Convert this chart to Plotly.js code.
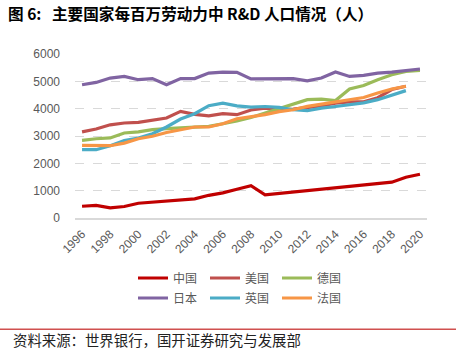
<!DOCTYPE html>
<html>
<head>
<meta charset="utf-8">
<script src="https://cdn.plot.ly/plotly-3.0.1.min.js"></script>
<style>html,body{margin:0;padding:0;background:#fff;}#chart{width:456px;height:353px;}</style>
</head>
<body>
<div id="chart"></div>
<script>
const years = [1996,1997,1998,1999,2000,2001,2002,2003,2004,2005,2006,2007,2008,2009,2010,2011,2012,2013,2014,2015,2016,2017,2018,2019,2020];
const tickYears = [1996,1998,2000,2002,2004,2006,2008,2010,2012,2014,2016,2018,2020];
const china   = [430,460,370,420,540,580,620,660,700,830,920,1050,1180,850,900,960,1020,1060,1100,1150,1200,1250,1310,1490,1600];
const usa     = [3150,3255,3410,3475,3500,3570,3660,3900,3790,3740,3815,3780,3950,4020,3950,3980,4030,4100,4200,4250,4250,4400,4700,4820,null];
const germany = [2840,2900,2930,3110,3150,3230,3270,3290,3330,3350,3450,3550,3680,3840,3990,4145,4330,4350,4300,4720,4850,5060,5240,5360,5400];
const japan   = [4875,4960,5120,5180,5060,5100,4875,5100,5100,5300,5340,5330,5090,5090,5090,5100,5020,5120,5340,5180,5220,5300,5340,5390,5450];
const uk      = [2500,2500,2645,2830,2925,3085,3330,3620,3815,4110,4200,4100,4060,4080,4050,3960,3925,4020,4080,4145,4210,4330,4490,4660,null];
const france  = [2660,2645,2645,2740,2900,2990,3130,3230,3330,3330,3450,3630,3695,3780,3890,3960,4085,4170,4240,4330,4410,4570,4720,4820,null];

const names = ['中国','美国','德国','日本','英国','法国'];
const colors = ['#C00000','#C0504D','#9BBB59','#8064A2','#4BACC6','#F79646'];
const series = [china, usa, germany, japan, uk, france];
const legends = ['legend','legend','legend','legend2','legend2','legend2'];

const traces = series.map((s,i)=>({
  x: years, y: s, type:'scatter', mode:'lines', name: names[i],
  line:{color:colors[i], width:3.2}, legend: legends[i]
}));

const fontCJK = '"Noto Sans CJK SC", "Noto Sans", sans-serif';
const legendCommon = {
  orientation:'h', xref:'container', yref:'container', xanchor:'left', yanchor:'middle',
  font:{family:fontCJK, size:12, color:'#595959'},
  entrywidth:27, entrywidthmode:'pixels', bgcolor:'rgba(0,0,0,0)', borderwidth:0,
  itemwidth:30, tracegroupgap:0
};

const layout = {
  width:456, height:353,
  margin:{l:75, r:29, t:54.3, b:134.7},
  paper_bgcolor:'#fff', plot_bgcolor:'#fff',
  showlegend:true,
  title:{text:'<b>图 6:&nbsp;&nbsp;&nbsp;主要国家每百万劳动力中 R&D 人口情况（人）</b>', xref:'container', yref:'container', x:8/456, xanchor:'left', y:1-15/353, yanchor:'middle',
    font:{family:fontCJK, size:15.6, color:'#000'}},
  xaxis:{range:[1995.5,2020.5], tickvals:tickYears, ticktext:tickYears.map(String), tickangle:-45,
    showgrid:false, zeroline:false, showline:true, linecolor:'#D9D9D9', linewidth:1.5,
    ticks:'', ticklabelstandoff:3, tickfont:{family:'"Liberation Sans", Arial, sans-serif', size:12, color:'#595959'}},
  yaxis:{range:[0,6000], tickvals:[0,1000,2000,3000,4000,5000,6000], showgrid:true, gridcolor:'#D9D9D9', gridwidth:1, griddash:'dash',
    zeroline:false, showline:false, ticks:'', ticklabelstandoff:14,
    tickfont:{family:'"Liberation Sans", Arial, sans-serif', size:12, color:'#595959'}},
  legend: Object.assign({}, legendCommon, {x:133/456, y:1-278/353}),
  legend2: Object.assign({}, legendCommon, {x:133/456, y:1-298/353}),
  shapes:[
    {type:'line', xref:'paper', yref:'paper', x0:-75/352, x1:(456-75)/352, y0:(353-54.3-26)/163.6, y1:(353-54.3-26)/163.6, line:{color:'#E8A0A6', width:2}},
    {type:'line', xref:'paper', yref:'paper', x0:-75/352, x1:(456-75)/352, y0:-(329.5-218.3)/164, y1:-(329.5-218.3)/164, line:{color:'#D0504F', width:1.5}}
  ],
  annotations:[
    {text:'资料来源：世界银行，国开证券研究与发展部', xref:'paper', yref:'paper', x:-64/352, y:-(340-218.3)/164, xanchor:'left', yanchor:'middle', showarrow:false,
     font:{family:fontCJK, size:14.4, color:'#222'}}
  ]
};

Plotly.newPlot('chart', traces, layout, {displayModeBar:false, staticPlot:true});
</script>
</body>
</html>
